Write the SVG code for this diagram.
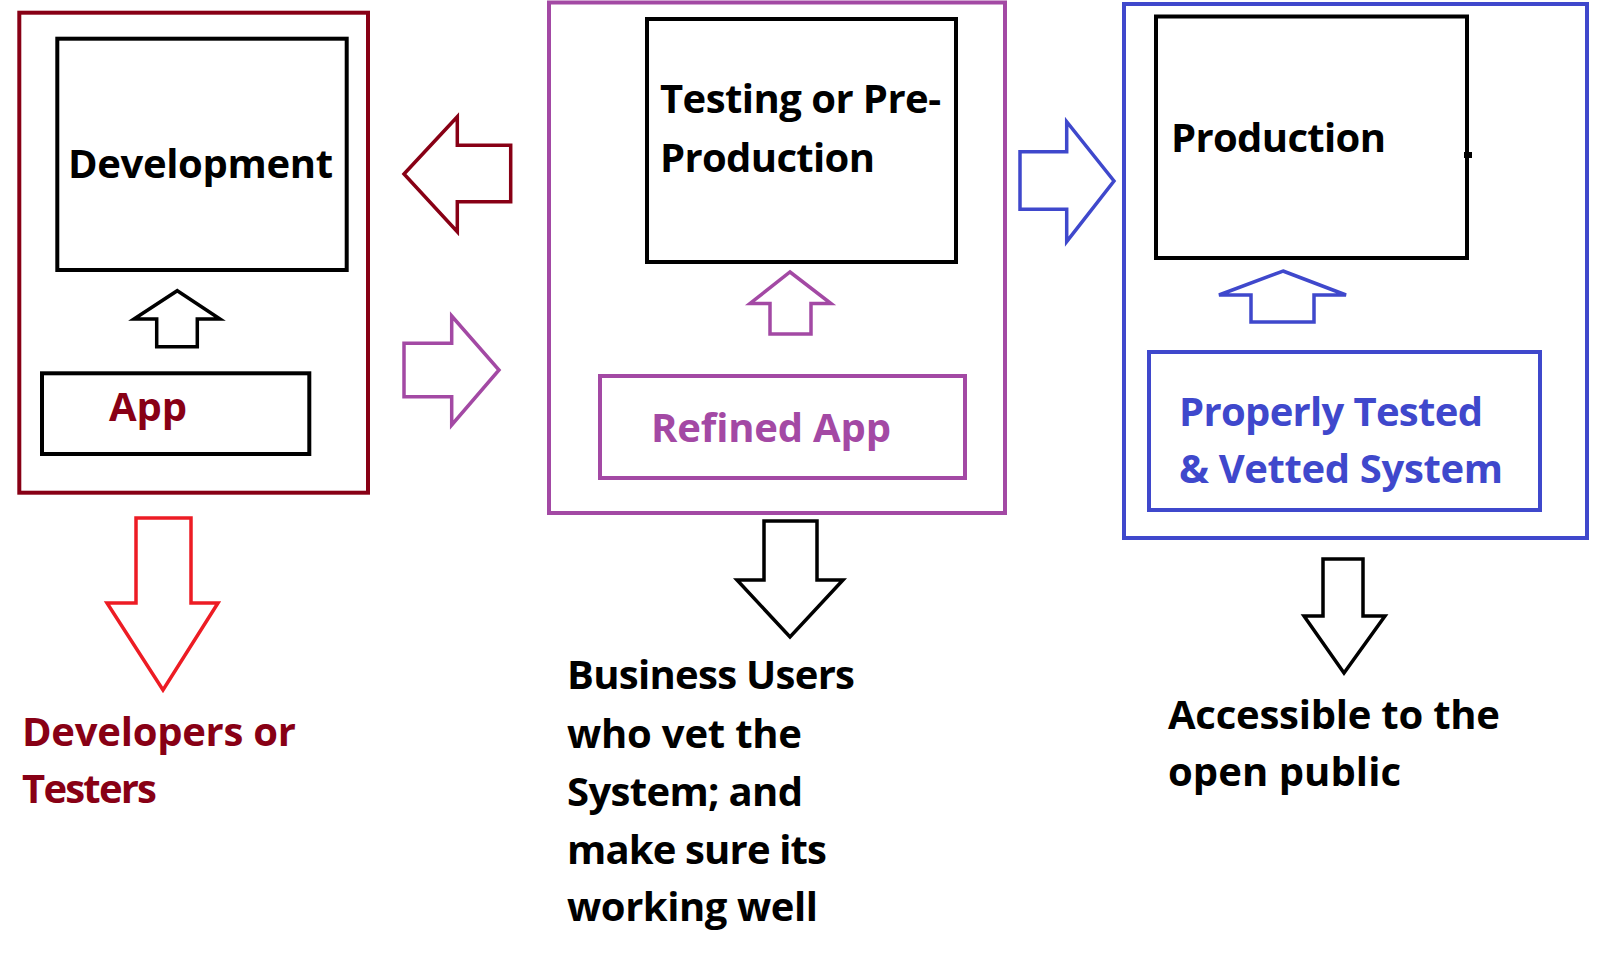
<svg xmlns="http://www.w3.org/2000/svg" width="1600" height="958" viewBox="0 0 1600 958">
<style>
text{font-family:"Open Sans","Liberation Sans",sans-serif;font-weight:700;font-size:40px}
.box{fill:none;stroke-width:4}
.arr{fill:#fff;stroke-width:3.5;stroke-linejoin:miter}
.k{stroke:#000}.dr{stroke:#880015}.pu{stroke:#a349a4}.bl{stroke:#3f48cc}.rd{stroke:#ed1c24}
.tk{fill:#000}.tdr{fill:#880015}.tpu{fill:#a349a4}.tbl{fill:#3f48cc}
</style>
<rect width="1600" height="958" fill="#fff"/>
<g id="stage-development">
<rect class="box dr" x="19.3" y="12.7" width="348.7" height="480"/>
<g id="development">
<rect class="box k" x="57.3" y="38.7" width="289.4" height="231.3"/>
<text class="tk" x="68" y="178" textLength="265">Development</text>
</g>
<g id="app">
<rect class="box k" x="42" y="373.3" width="267.3" height="80.7"/>
<text class="tdr" x="109" y="421" textLength="78">App</text>
</g>
</g>
<g id="stage-testing">
<rect class="box pu" x="549" y="2.5" width="456" height="510.5"/>
<g id="testing">
<rect class="box k" x="647" y="19" width="309" height="243"/>
<text class="tk" x="660" y="113" textLength="281">Testing or Pre-</text>
<text class="tk" x="660" y="172" textLength="215">Production</text>
</g>
<g id="refined-app">
<rect class="box pu" x="600" y="376" width="365" height="102"/>
<text class="tpu" x="651" y="442" textLength="240">Refined App</text>
</g>
</g>
<g id="stage-production">
<rect class="box bl" x="1124" y="4" width="463" height="534"/>
<g id="production">
<rect class="box k" x="1156" y="16.5" width="311" height="241.5"/>
<rect x="1464" y="152" width="8" height="6" fill="#000"/>
<text class="tk" x="1171" y="152" textLength="215">Production</text>
</g>
<g id="vetted-system">
<rect class="box bl" x="1149" y="352" width="391" height="158"/>
<text class="tbl" x="1179" y="426" textLength="304">Properly Tested</text>
<text class="tbl" x="1179" y="483" textLength="324">&amp; Vetted System</text>
</g>
</g>
<g id="audience-dev">
<text class="tdr" x="22" y="746" textLength="274">Developers or</text>
<text class="tdr" x="22" y="803" textLength="135">Testers</text>
</g>
<g id="audience-testing">
<text class="tk" x="567" y="689" textLength="288">Business Users</text>
<text class="tk" x="567" y="748" textLength="235">who vet the</text>
<text class="tk" x="567" y="806" textLength="236">System; and</text>
<text class="tk" x="567" y="864" textLength="260">make sure its</text>
<text class="tk" x="567" y="921" textLength="251">working well</text>
</g>
<g id="audience-production">
<text class="tk" x="1168" y="729" textLength="332">Accessible to the</text>
<text class="tk" x="1168" y="786" textLength="233">open public</text>
</g>
<g id="connectors">
<polygon class="arr k" points="177.3,290.7 220,319 197.3,319 197.3,346.7 156.7,346.7 156.7,319 134,319"/>
<polygon class="arr dr" points="404,174 457.3,116.7 457.3,145.3 510.7,145.3 510.7,201.7 457.3,201.7 457.3,231.7"/>
<polygon class="arr pu" points="404,343.3 451.7,343.3 451.7,316 499,370 451.7,425 451.7,396.7 404,396.7"/>
<polygon class="arr pu" points="790,272 831,303.5 811,303.5 811,334 770,334 770,303.5 750,303.5"/>
<polygon class="arr bl" points="1020,151.7 1066.7,151.7 1066.7,121.7 1114,181 1066.7,241.7 1066.7,209.3 1020,209.3"/>
<polygon class="arr bl" points="1283,271 1346,295 1314,295 1314,322 1251,322 1251,295 1219,295"/>
<polygon class="arr rd" points="136,518 191,518 191,603 218,603 163,690 107,603 136,603"/>
<polygon class="arr k" points="764,521 817,521 817,580 843,580 790,637 737,580 764,580"/>
<polygon class="arr k" points="1323,559 1363,559 1363,616 1385,616 1344,673 1304,616 1323,616"/>
</g>
</svg>
